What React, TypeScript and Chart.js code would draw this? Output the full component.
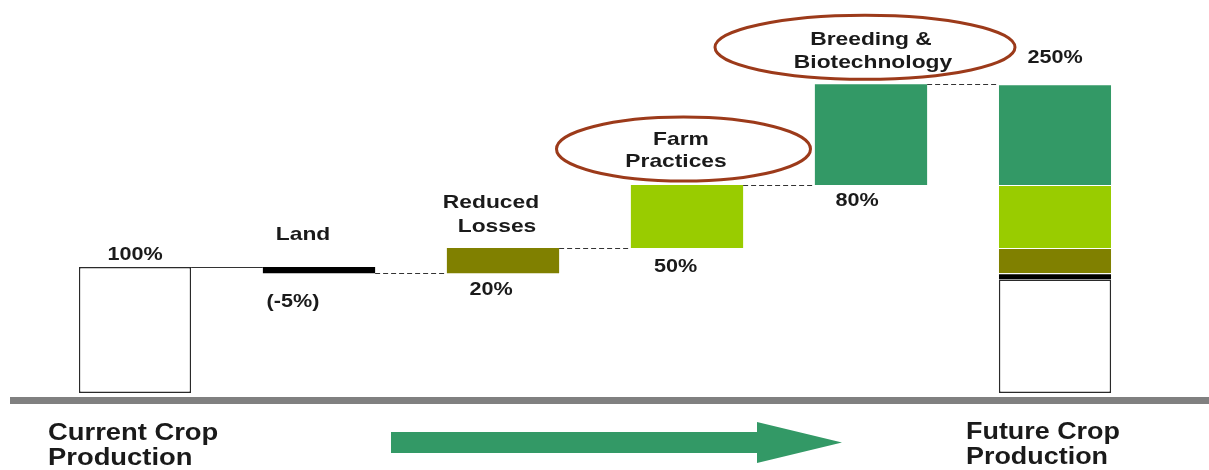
import React, { useEffect, useRef } from "react";
import { Chart, registerables } from "chart.js";

Chart.register(...registerables);

// ---- data ----
const categories = [
  "Current Crop Production",
  "Land",
  "Reduced Losses",
  "Farm Practices",
  "Breeding & Biotechnology",
  "Future Crop Production",
];
const steps = [100, -5, 20, 50, 80]; // starting level, then changes
const futureSegments = [90, 5, 20, 50, 80]; // white, black, olive, light green, dark green
const valueLabels = ["100%", "(-5%)", "20%", "50%", "80%", "250%"];
const stepNames: string[][] = [
  [],
  ["Land"],
  ["Reduced", "Losses"],
  ["Farm", "Practices"],
  ["Breeding &", "Biotechnology"],
  [],
];
const endLabels = [
  ["Current Crop", "Production"],
  ["Future Crop", "Production"],
];
const segmentColors = ["#FFFFFF", "#000000", "#808000", "#99CC00", "#339966"];

// ---- derived ranges ----
const waterfall: number[][] = [];
const levels: number[] = [];
{
  let cum = 0;
  steps.forEach((s, i) => {
    const start = i === 0 ? 0 : cum;
    const end = cum + s;
    waterfall.push([Math.min(start, end), Math.max(start, end)]);
    cum = end;
    levels.push(cum);
  });
}
const future: number[][] = [];
{
  let c = 0;
  futureSegments.forEach((s) => {
    future.push([c, c + s]);
    c += s;
  });
}

const TEXT = "#1a1a1a";
const STRETCH = 1.2;

function txt(
  ctx: CanvasRenderingContext2D,
  s: string,
  x: number,
  y: number,
  size: number,
  align: CanvasTextAlign = "center",
  stretch = STRETCH
) {
  ctx.save();
  ctx.translate(x, y);
  ctx.scale(stretch, 1);
  ctx.font = `bold ${size}px "Liberation Sans", Arial, sans-serif`;
  ctx.fillStyle = TEXT;
  ctx.textAlign = align;
  ctx.textBaseline = "alphabetic";
  ctx.fillText(s, 0, 0);
  ctx.restore();
}

const decorPlugin = {
  id: "decor",
  beforeDatasetsDraw(chart: any) {
    const ctx = chart.ctx as CanvasRenderingContext2D;
    const ys = chart.scales.y;
    const base = ys.getPixelForValue(0);
    // ground line
    ctx.save();
    ctx.fillStyle = "#808080";
    ctx.fillRect(10, base + 4, chart.width - 10, 7);
    ctx.restore();
  },
  afterDatasetsDraw(chart: any) {
    const ctx = chart.ctx as CanvasRenderingContext2D;
    const ys = chart.scales.y;
    const py = (v: number) => ys.getPixelForValue(v);
    const xs = chart.scales.x;
    const cx = (i: number) => xs.getPixelForValue(i);
    const meta = chart.getDatasetMeta(0);
    const w = meta.data[0].width;

    // connectors
    for (let i = 0; i < categories.length - 1; i++) {
      const y = Math.round(py(levels[i])) + 0.5;
      ctx.save();
      ctx.strokeStyle = "#333";
      ctx.lineWidth = 1;
      if (i > 0) ctx.setLineDash([5, 3]);
      ctx.beginPath();
      ctx.moveTo(cx(i) + w / 2, y);
      ctx.lineTo(cx(i + 1) - w / 2, y);
      ctx.stroke();
      ctx.restore();
    }

    // ellipses
    const ell = (x: number, y: number, rx: number, ry: number) => {
      ctx.save();
      ctx.strokeStyle = "#9C3A1A";
      ctx.lineWidth = 3;
      ctx.beginPath();
      ctx.ellipse(x, y, rx, ry, 0, 0, Math.PI * 2);
      ctx.stroke();
      ctx.restore();
    };
    ell(cx(3) - 3.5, py(levels[3]) - 36, 127, 32);
    ell(cx(4) - 6, py(levels[4]) - 37, 150, 32);

    // category names
    txt(ctx, stepNames[1][0], cx(1) - 16, py(levels[0]) - 27, 19);
    txt(ctx, stepNames[2][0], cx(2) - 12, py(levels[2]) - 40, 19);
    txt(ctx, stepNames[2][1], cx(2) - 6, py(levels[2]) - 16, 19);
    txt(ctx, stepNames[3][0], cx(3) - 6, py(levels[3]) - 40, 19);
    txt(ctx, stepNames[3][1], cx(3) - 11, py(levels[3]) - 18, 19);
    txt(ctx, stepNames[4][0], cx(4), py(levels[4]) - 39, 19);
    txt(ctx, stepNames[4][1], cx(4) + 2, py(levels[4]) - 16, 19);

    // value labels
    txt(ctx, valueLabels[0], cx(0), py(levels[0]) - 7, 18);
    txt(ctx, valueLabels[1], cx(1) - 26, py(levels[1]) + 34, 18);
    txt(ctx, valueLabels[2], cx(2) - 12, py(levels[1]) + 22, 18);
    txt(ctx, valueLabels[3], cx(3) - 11.5, py(levels[2]) + 24, 18);
    txt(ctx, valueLabels[4], cx(4) - 14, py(levels[3]) + 21, 18);
    txt(ctx, valueLabels[5], cx(5), py(levels[4]) - 21, 18);

    // bottom labels
    txt(ctx, endLabels[0][0], 48, 440, 23, "left", 1.19);
    txt(ctx, endLabels[0][1], 48, 465, 23, "left", 1.19);
    txt(ctx, endLabels[1][0], 966, 439, 23, "left", 1.17);
    txt(ctx, endLabels[1][1], 966, 464, 23, "left", 1.17);

    // arrow
    ctx.save();
    ctx.fillStyle = "#339966";
    ctx.beginPath();
    ctx.moveTo(391, 432);
    ctx.lineTo(757, 432);
    ctx.lineTo(757, 422);
    ctx.lineTo(842, 442.5);
    ctx.lineTo(757, 463);
    ctx.lineTo(757, 453);
    ctx.lineTo(391, 453);
    ctx.closePath();
    ctx.fill();
    ctx.restore();
  },
};

export default function App() {
  const ref = useRef<HTMLCanvasElement | null>(null);
  useEffect(() => {
    if (!ref.current) return;
    const n = categories.length;
    const datasets = segmentColors.map((color, k) => {
      const data: any[] = new Array(n).fill(null);
      data[k] = waterfall[k];
      data[n - 1] = future[k];
      return {
        label: k === 0 ? categories[0] : categories[k],
        data,
        backgroundColor: color,
        borderColor: k === 0 ? "#2a2a2a" : "#FFFFFF",
        borderWidth: k === 0
          ? 1.5
          : (c: any) => (c.dataIndex === n - 1 ? { top: 1, bottom: 0, left: 0, right: 0 } : 0),
        borderSkipped: false,
        grouped: false,
        barPercentage: 0.61,
        categoryPercentage: 1,
      };
    });
    const chart = new Chart(ref.current, {
      type: "bar",
      data: { labels: categories, datasets: datasets as any },
      options: {
        responsive: false,
        animation: false,
        layout: { padding: { left: 43, right: 62, top: 15, bottom: 77 } },
        plugins: { legend: { display: false }, tooltip: { enabled: false } },
        scales: {
          x: { display: false, offset: true },
          y: { display: false, min: 0, max: 300 },
        },
      },
      plugins: [decorPlugin],
    });
    return () => chart.destroy();
  }, []);
  return (
    <div style={{ position: "fixed", left: 0, top: 0, width: 1209, height: 470, background: "#fff" }}>
      <canvas ref={ref} width={1209} height={470} style={{ width: 1209, height: 470, display: "block" }} />
    </div>
  );
}
